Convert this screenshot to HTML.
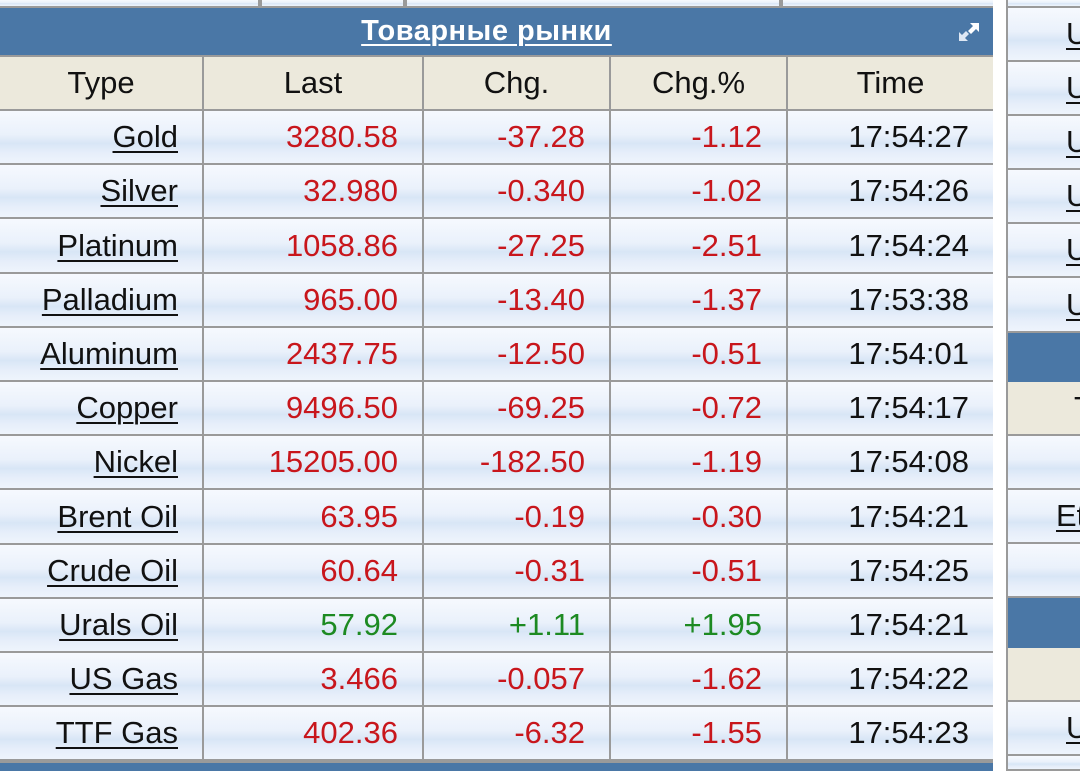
<!DOCTYPE html>
<html><head><meta charset="utf-8"><style>
*{margin:0;padding:0;box-sizing:border-box}
body{width:1080px;height:771px;overflow:hidden;background:#fff;font-family:"Liberation Sans","DejaVu Sans",sans-serif;position:relative}
.a{position:absolute}
.bar{background:#4a77a6}
.tan{background:#ece9dc}
.row{background:linear-gradient(#f6f9fe 0%,#eaf1fb 45%,#d8e6f6 62%,#e6eefa 80%,#eef4fc 100%)}
.c{position:absolute;height:52px;line-height:52px;font-size:31px;text-align:right;padding-right:24px;color:#111}
.h{text-align:center;padding:0}
.r{color:#c8161c}.g{color:#1d8a22}
u{text-decoration:underline;text-decoration-thickness:2px;text-underline-offset:4px}
</style></head><body>
<div class="a" style="left:0;top:0;width:1080px;height:771px;background:#9a9a9a"></div>
<div class="a row" style="left:0;top:0;width:258px;height:6px"></div>
<div class="a row" style="left:262px;top:0;width:141px;height:6px"></div>
<div class="a row" style="left:407px;top:0;width:372px;height:6px"></div>
<div class="a row" style="left:783px;top:0;width:210px;height:6px"></div>
<div class="a" style="left:993px;top:0;width:13px;height:771px;background:#fff"></div>
<div class="a bar" style="left:0;top:8px;width:993px;height:47px"></div>
<div class="a" style="left:-10px;top:8px;width:993px;height:47px;text-align:center;line-height:47px;color:#fff;font-weight:bold;font-size:29px;letter-spacing:0.5px"><u>Товарные рынки</u></div>
<svg class="a" style="left:956px;top:20px" width="26" height="24" viewBox="0 0 26 24"><path d="M14 3h9v9l-3-3-5 5-3-3 5-5z" fill="#fff"/><path d="M3 12v9h9l-3-3 4-4-3-3-4 4z" fill="#dfe8f4"/></svg>
<div id="tbl"></div>
<script>
var xs=[0,204,424,611,788],xe=[202,422,609,786,993];
var hd=["Type","Last","Chg.","Chg.%","Time"];
var d=[["Gold","3280.58","-37.28","-1.12","17:54:27"],["Silver","32.980","-0.340","-1.02","17:54:26"],["Platinum","1058.86","-27.25","-2.51","17:54:24"],["Palladium","965.00","-13.40","-1.37","17:53:38"],["Aluminum","2437.75","-12.50","-0.51","17:54:01"],["Copper","9496.50","-69.25","-0.72","17:54:17"],["Nickel","15205.00","-182.50","-1.19","17:54:08"],["Brent Oil","63.95","-0.19","-0.30","17:54:21"],["Crude Oil","60.64","-0.31","-0.51","17:54:25"],["Urals Oil","57.92","+1.11","+1.95","17:54:21"],["US Gas","3.466","-0.057","-1.62","17:54:22"],["TTF Gas","402.36","-6.32","-1.55","17:54:23"]];
var h="";
for(var i=0;i<5;i++)h+='<div class="c h tan" style="left:'+xs[i]+'px;top:57px;width:'+(xe[i]-xs[i])+'px">'+hd[i]+'</div>';
for(var r=0;r<12;r++){var y=Math.round(111+r*54.2);var y2=Math.round(111+(r+1)*54.2)-2;var cl=d[r][2][0]=="+"?"g":"r";
for(var i=0;i<5;i++){var t=d[r][i];if(i==0)t='<u>'+t+'</u>';
var c=(i>0&&i<4)?cl:"";
h+='<div class="c row '+c+'" style="left:'+xs[i]+'px;top:'+y+'px;height:'+(y2-y)+'px;line-height:'+(y2-y)+'px;width:'+(xe[i]-xs[i])+'px">'+t+'</div>';}}
h+='<div class="a bar" style="left:0;top:763px;width:993px;height:8px"></div>';
var rp=[[8,"row","U"],[62,"row","U"],[116,"row","U"],[170,"row","U"],[224,"row","U"],[278,"row","U"],[333,"bar",""],[382,"tan","T"],[436,"row",""],[490,"row","Et"],[544,"row",""],[598,"bar",""],[648,"tan",""],[702,"row","U"],[756,"row",""]];
h+='<div class="a row" style="left:1008px;top:0;width:72px;height:6px"></div>';
for(var k=0;k<rp.length;k++){var p=rp[k];var hh=(k+1<rp.length?rp[k+1][0]:771)-p[0]-2;if(p[1]=="bar")hh+=2;
h+='<div class="a '+p[1]+'" style="left:1008px;top:'+p[0]+'px;width:72px;height:'+hh+'px;font-size:31px;line-height:'+hh+'px;color:#111;white-space:nowrap;overflow:hidden;padding-left:'+(p[2]=="Et"?48:p[2]=="T"?66:58)+'px">'+(p[2]&&p[2]!="T"?'<u>'+p[2]+'</u>':p[2])+'</div>';}
document.getElementById("tbl").innerHTML=h;
</script>
</body></html>
